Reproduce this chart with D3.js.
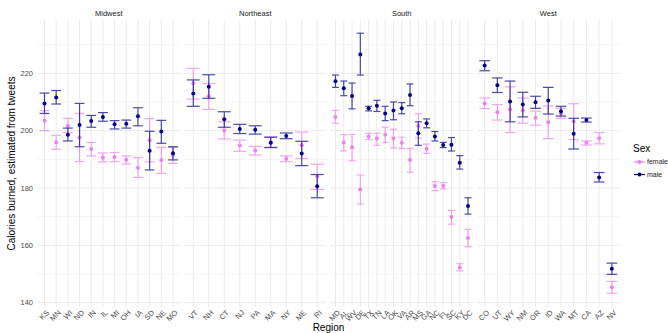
<!DOCTYPE html>
<html>
<head>
<meta charset="utf-8">
<script src="https://cdn.jsdelivr.net/npm/d3@7"></script>
<style>
  body { margin: 0; background: white; }
  text { font-family: "Liberation Sans", Arial, sans-serif; }
</style>
</head>
<body>
<div id="container"></div>
<script>
// regions (facets) and their states, in plotted order
const regions = ['Midwest', 'Northeast', 'South', 'West'];
const statesMidwest = ['KS', 'MN', 'WI', 'ND', 'IN', 'IL', 'MI', 'OH', 'IA', 'SD', 'NE', 'MO'];
const statesNortheast = ['VT', 'NH', 'CT', 'NJ', 'PA', 'MA', 'NY', 'ME', 'RI'];
const statesSouth = ['MD', 'AL', 'WV', 'DE', 'TX', 'TN', 'LA', 'OK', 'VA', 'AR', 'MS', 'GA', 'NC', 'FL', 'SC', 'KY', 'DC'];
const statesWest = ['CO', 'UT', 'WY', 'NM', 'OR', 'ID', 'WA', 'MT', 'CA', 'AZ', 'NV'];

// [estimate, lower, upper] per state, same order as above
const maleMidwest = [[209.5, 206.0, 213.1], [211.6, 209.3, 214.0], [198.6, 196.4, 200.9], [202.0, 194.4, 209.5],
    [203.4, 201.2, 205.3], [204.8, 203.3, 206.3], [202.2, 200.6, 203.5], [202.4, 200.9, 203.7],
    [205.0, 201.7, 208.0], [193.0, 186.3, 199.8], [199.7, 195.6, 203.6], [192.1, 189.8, 194.4]];
const femaleMidwest = [[203.5, 200.0, 207.0], [196.0, 193.5, 198.4], [201.7, 199.3, 204.3], [197.6, 189.2, 206.0],
    [193.6, 191.2, 195.9], [190.6, 189.1, 192.2], [190.8, 189.2, 192.4], [189.9, 188.4, 191.2],
    [187.1, 183.7, 190.6], [196.7, 189.1, 204.2], [189.8, 185.1, 194.2], [191.5, 188.6, 194.2]];

const maleNortheast = [[213.0, 208.5, 217.7], [215.3, 211.3, 219.5], [204.0, 201.2, 206.6], [200.6, 199.0, 202.2],
    [200.3, 198.8, 201.7], [195.8, 194.1, 197.7], [198.1, 197.2, 199.2], [192.0, 187.8, 196.3],
    [180.6, 176.6, 184.7]];
const femaleNortheast = [[216.5, 211.0, 221.7], [212.0, 207.4, 216.4], [200.1, 197.1, 203.1], [194.8, 192.8, 196.7],
    [193.1, 191.5, 194.5], [196.0, 194.3, 197.9], [190.2, 189.2, 191.2], [194.9, 190.3, 199.5],
    [184.0, 179.5, 188.3]];

const maleSouth = [[217.2, 215.1, 219.4], [214.8, 212.2, 217.3], [212.1, 207.6, 216.6], [226.6, 219.4, 234.0],
    [207.8, 206.9, 208.5], [208.7, 206.7, 210.6], [206.0, 203.5, 208.5], [207.0, 203.8, 210.0],
    [207.8, 205.9, 209.8], [212.4, 208.7, 216.3], [199.1, 194.9, 203.1], [202.6, 201.0, 204.1],
    [198.0, 196.4, 199.7], [195.0, 194.1, 195.9], [195.1, 192.9, 197.6], [188.8, 186.6, 191.3],
    [173.7, 170.9, 176.6]];
const femaleSouth = [[204.8, 202.6, 207.1], [195.9, 193.0, 198.6], [194.2, 189.5, 198.7], [179.5, 174.4, 184.5],
    [198.0, 196.9, 199.1], [197.3, 194.9, 199.1], [198.6, 195.9, 201.2], [197.3, 194.0, 200.5],
    [195.8, 193.8, 197.7], [189.8, 185.5, 193.8], [201.6, 197.4, 205.9], [193.7, 192.1, 195.3],
    [180.7, 179.1, 182.2], [180.8, 179.7, 181.9], [169.9, 167.4, 172.2], [152.3, 151.1, 153.6],
    [162.6, 159.5, 165.6]];

const maleWest = [[222.7, 220.9, 224.4], [215.8, 213.3, 218.4], [210.2, 203.1, 217.3], [209.1, 204.8, 213.4],
    [209.9, 207.8, 212.0], [210.5, 205.8, 215.1], [206.8, 205.1, 208.5], [198.9, 193.6, 204.3],
    [203.7, 203.0, 204.4], [183.7, 182.1, 185.4], [151.8, 149.9, 153.8]];
const femaleWest = [[209.5, 207.7, 211.4], [206.4, 203.7, 209.1], [207.4, 199.3, 215.3], [207.0, 202.6, 211.4],
    [204.5, 201.9, 206.8], [202.9, 197.2, 208.6], [206.0, 204.3, 207.8], [203.2, 196.9, 209.4],
    [195.8, 195.0, 196.4], [197.4, 195.4, 199.3], [145.4, 143.3, 147.4]];

const yMajorTicks = [140, 160, 180, 200, 220];
const yMinorTicks = [150, 170, 190, 210, 230];
const sexes = ['female', 'male'];
const sexColors = ['#EE82EE', '#00008B'];

const config = {
    width: 668,
    height: 333,
    panelLeft: 37.5,
    panelWidth: 142.5,
    panelGap: 4,
    panelTop: 20,
    panelBottom: 307,
}

const facetStates = [statesMidwest, statesNortheast, statesSouth, statesWest];
const facetMale = [maleMidwest, maleNortheast, maleSouth, maleWest];
const facetFemale = [femaleMidwest, femaleNortheast, femaleSouth, femaleWest];

const svg = d3.select('#container')
    .append('svg')
    .attr('width', config.width)
    .attr('height', config.height)

const yScale = d3.scaleLinear()
    .domain([138.5, 238.6])
    .range([config.panelBottom, config.panelTop])

const colorScale = d3.scaleOrdinal().domain(sexes).range(sexColors)

regions.forEach((region, i) => {
    const x0 = config.panelLeft + i * (config.panelWidth + config.panelGap);
    const xScale = d3.scalePoint()
        .domain(facetStates[i])
        .range([x0, x0 + config.panelWidth])
        .padding(0.6)
    const step = xScale.step();
    const g = svg.append('g').attr('class', 'panel');

    // grid
    g.selectAll('.minor')
        .data(yMinorTicks)
        .join('line')
        .attr('x1', x0).attr('x2', x0 + config.panelWidth)
        .attr('y1', d => yScale(d)).attr('y2', d => yScale(d))
        .attr('stroke', '#EBEBEB').attr('stroke-width', 0.6)
    g.selectAll('.major')
        .data(yMajorTicks)
        .join('line')
        .attr('x1', x0).attr('x2', x0 + config.panelWidth)
        .attr('y1', d => yScale(d)).attr('y2', d => yScale(d))
        .attr('stroke', '#EBEBEB').attr('stroke-width', 1)
    g.selectAll('.vgrid')
        .data(facetStates[i])
        .join('line')
        .attr('x1', d => xScale(d)).attr('x2', d => xScale(d))
        .attr('y1', config.panelTop).attr('y2', config.panelBottom)
        .attr('stroke', '#EBEBEB').attr('stroke-width', 1)

    // strip
    g.append('text')
        .attr('x', x0 + config.panelWidth / 2)
        .attr('y', 16)
        .attr('text-anchor', 'middle')
        .style('font-size', '7.5px')
        .style('fill', '#1A1A1A')
        .text(region)

    // x tick labels
    g.selectAll('.xlab')
        .data(facetStates[i])
        .join('text')
        .attr('transform', d => `translate(${xScale(d) + 2},${config.panelBottom + 3}) rotate(-45)`)
        .attr('text-anchor', 'end')
        .attr('dy', '0.6em')
        .style('font-size', '7.5px')
        .style('fill', '#4D4D4D')
        .text(d => d)

    // error bars and points, female first then male
    const series = [
        {sex: 'female', values: facetFemale[i]},
        {sex: 'male', values: facetMale[i]},
    ];
    series.forEach(s => {
        const rows = facetStates[i].map((st, k) => ({state: st, est: s.values[k][0], lo: s.values[k][1], hi: s.values[k][2]}));
        const col = colorScale(s.sex);
        const eb = g.append('g').attr('class', 'errorbars ' + s.sex)
            .attr('stroke', col).attr('stroke-width', 1.2).attr('opacity', 0.7);
        eb.selectAll('.v').data(rows).join('line')
            .attr('x1', d => xScale(d.state)).attr('x2', d => xScale(d.state))
            .attr('y1', d => yScale(d.lo)).attr('y2', d => yScale(d.hi))
        eb.selectAll('.top').data(rows).join('line')
            .attr('x1', d => xScale(d.state) - step * 0.42).attr('x2', d => xScale(d.state) + step * 0.42)
            .attr('y1', d => yScale(d.hi)).attr('y2', d => yScale(d.hi))
        eb.selectAll('.bot').data(rows).join('line')
            .attr('x1', d => xScale(d.state) - step * 0.42).attr('x2', d => xScale(d.state) + step * 0.42)
            .attr('y1', d => yScale(d.lo)).attr('y2', d => yScale(d.lo))
        g.append('g').selectAll('circle').data(rows).join('circle')
            .attr('cx', d => xScale(d.state))
            .attr('cy', d => yScale(d.est))
            .attr('r', 2)
            .attr('fill', col)
    })
})

// y tick labels
svg.selectAll('.ylab')
    .data(yMajorTicks)
    .join('text')
    .attr('x', 33)
    .attr('y', d => yScale(d))
    .attr('dy', '0.35em')
    .attr('text-anchor', 'end')
    .style('font-size', '7.5px')
    .style('fill', '#4D4D4D')
    .text(d => d)

// axis titles
svg.append('text')
    .attr('transform', `translate(15,${(config.panelTop + config.panelBottom) / 2}) rotate(-90)`)
    .attr('text-anchor', 'middle')
    .style('font-size', '10px')
    .style('fill', '#000')
    .text('Calories burned, estimated from tweets')

svg.append('text')
    .attr('x', config.panelLeft + (4 * config.panelWidth + 3 * config.panelGap) / 2)
    .attr('y', 331)
    .attr('text-anchor', 'middle')
    .style('font-size', '10px')
    .style('fill', '#000')
    .text('Region')

// legend
const legend = svg.append('g').attr('class', 'legend');
legend.append('text')
    .attr('x', 633)
    .attr('y', 152)
    .style('font-size', '10px')
    .text('Sex')
sexes.forEach((s, k) => {
    const y = 162 + k * 12.5;
    legend.append('line')
        .attr('x1', 634).attr('x2', 645)
        .attr('y1', y).attr('y2', y)
        .attr('stroke', colorScale(s)).attr('stroke-width', 1.2)
    legend.append('circle')
        .attr('cx', 639.5).attr('cy', y).attr('r', 2)
        .attr('fill', colorScale(s))
    legend.append('text')
        .attr('x', 647).attr('y', y)
        .attr('dy', '0.35em')
        .style('font-size', '7px')
        .style('fill', '#1A1A1A')
        .text(s)
})
</script>
</body>
</html>
